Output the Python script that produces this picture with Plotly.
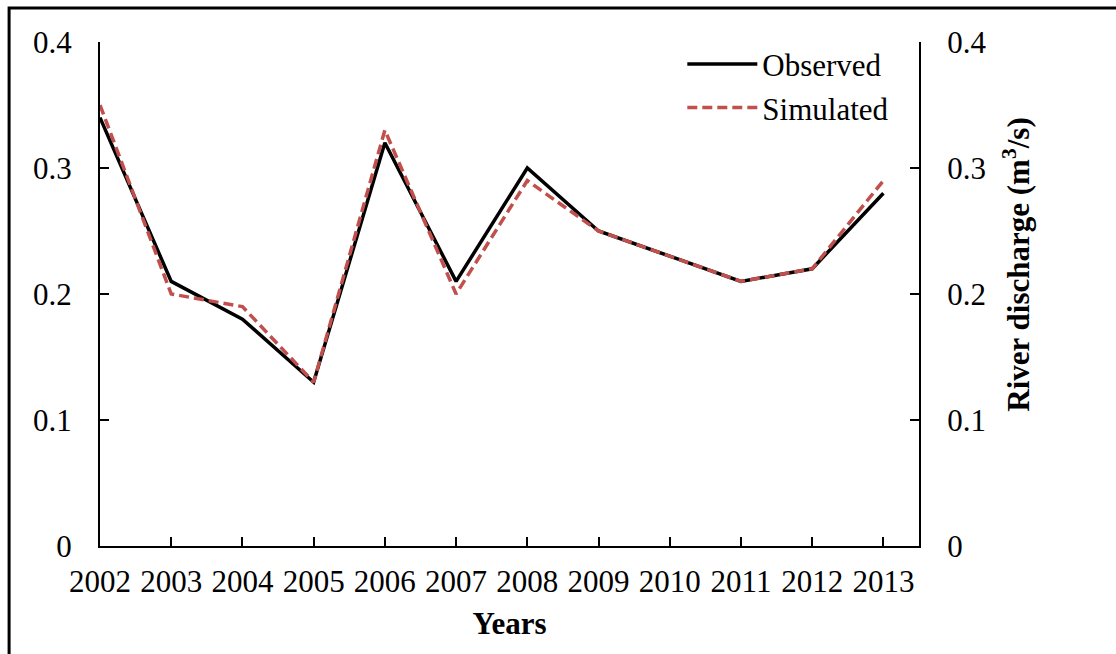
import plotly.graph_objects as go

# Annual mean river discharge (m3/s)
years = ["2002", "2003", "2004", "2005", "2006", "2007",
         "2008", "2009", "2010", "2011", "2012", "2013"]
observed = [0.34, 0.21, 0.18, 0.13, 0.32, 0.21, 0.30, 0.25, 0.23, 0.21, 0.22, 0.28]
simulated = [0.35, 0.20, 0.19, 0.13, 0.33, 0.20, 0.29, 0.25, 0.23, 0.21, 0.22, 0.29]
y_ticks = [0, 0.1, 0.2, 0.3, 0.4]
y_ticktext = ["0", "0.1", "0.2", "0.3", "0.4"]

FONT = "Liberation Serif, Times New Roman, serif"
FS = 31
x_idx = list(range(len(years)))

fig = go.Figure()
fig.add_trace(go.Scatter(
    x=x_idx, y=observed, name="Observed", mode="lines",
    line=dict(color="black", width=3.5),
))
fig.add_trace(go.Scatter(
    x=x_idx, y=simulated, name="Simulated", mode="lines",
    line=dict(color="#C0504D", width=3.5, dash="10px,5px"),
))
# invisible trace to carry the right-hand axis
fig.add_trace(go.Scatter(
    x=x_idx, y=observed, yaxis="y2", mode="lines",
    line=dict(width=0), showlegend=False, hoverinfo="skip", opacity=0,
))

axis_common = dict(
    showgrid=False, zeroline=False, showline=True, linecolor="black",
    linewidth=2, ticks="inside", ticklen=9, tickwidth=2, tickcolor="black",
    tickfont=dict(family=FONT, size=FS, color="black"),
)

fig.update_layout(
    width=1116, height=654,
    margin=dict(l=100, r=197, t=42, b=108),
    paper_bgcolor="white", plot_bgcolor="white",
    font=dict(family=FONT, size=FS, color="black"),
    xaxis=dict(
        **axis_common,
        range=[0, 11.5],
        tickmode="array", tickvals=x_idx, ticktext=years,
        ticklabelstandoff=7,
        title=dict(text="<b>Years</b>", font=dict(family=FONT, size=FS), standoff=14),
    ),
    yaxis=dict(
        **axis_common,
        range=[0, 0.4],
        tickmode="array", tickvals=y_ticks, ticktext=y_ticktext,
        ticklabelstandoff=20,
    ),
    yaxis2=dict(
        **axis_common,
        overlaying="y", side="right",
        range=[0, 0.4],
        tickmode="array", tickvals=y_ticks, ticktext=y_ticktext,
        ticklabelstandoff=20,
    ),
    legend=dict(
        x=0.711, y=1.009, xanchor="left", yanchor="top",
        bgcolor="rgba(0,0,0,0)", font=dict(family=FONT, size=FS),
        itemwidth=70, tracegroupgap=0,
    ),
    showlegend=True,
)

# right-hand axis title
fig.add_annotation(
    text="<b>River discharge (m<sup>3</sup>/s)</b>",
    xref="paper", yref="paper", x=1.118, y=0.5575,
    xanchor="center", yanchor="middle", textangle=-90,
    showarrow=False, font=dict(family=FONT, size=FS, color="black"),
)

# outer frame around the figure
fig.add_shape(
    type="rect", xref="paper", yref="paper",
    x0=-0.111, x1=1.3, y0=-0.3, y1=1.0675,
    line=dict(color="black", width=3), fillcolor="rgba(0,0,0,0)",
    layer="above",
)

fig.write_html("out.html")
